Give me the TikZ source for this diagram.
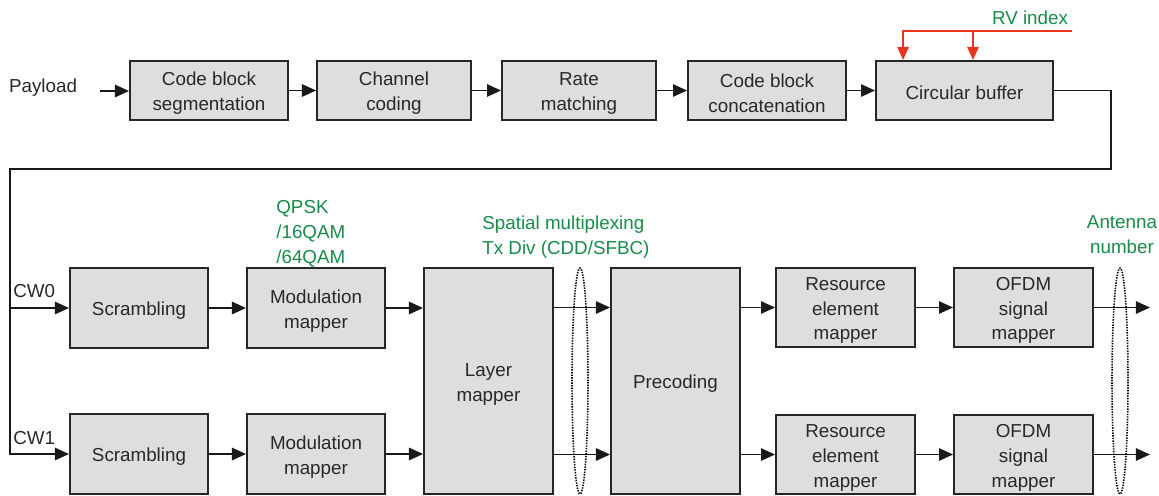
\documentclass[tikz,border=0pt]{standalone}
\usepackage{fontspec}
\setmainfont{Liberation Sans}
\usetikzlibrary{arrows.meta,shapes.geometric}
\definecolor{blkfill}{RGB}{222,222,222}
\definecolor{lblgreen}{RGB}{22,140,72}
\definecolor{rvred}{RGB}{234,52,32}
\definecolor{txtgray}{RGB}{40,40,40}
\begin{document}
\begin{tikzpicture}[x=0.02cm,y=-0.02cm,
	blk/.style={draw=black!85,line width=1.1pt,fill=blkfill,text=txtgray,align=center,inner sep=0pt,
		font=\fontsize{10.7}{14.2}\selectfont},
	lift/.style={execute at begin node={\rule{0pt}{#1}}},
	one/.style={lift=10.2pt},
	two/.style={lift=25pt},
	three/.style={lift=39.2pt},
	toprow/.style={blk,minimum height=1.18cm},
	cwblk/.style={blk,minimum width=2.76cm,minimum height=1.6cm},
	mapblk/.style={blk,three,minimum width=2.78cm,minimum height=1.58cm},
	tall/.style={blk,minimum width=2.58cm,minimum height=4.52cm},
	arr/.style={line width=1.1pt,black!90,-{Triangle[length=8pt,width=7pt]}},
	rvline/.style={line width=0.9pt,rvred,-{Triangle[length=7.5pt,width=6.5pt]}},
	grp/.style={ellipse,draw,line width=0.9pt,dash pattern=on 0.8pt off 0.7pt,inner sep=0pt,minimum width=0.32cm,minimum height=4.52cm},
	lbl/.style={text=txtgray,inner sep=0pt,font=\fontsize{10.7}{14.2}\selectfont},
	grn/.style={text=lblgreen,inner sep=0pt,align=left,font=\fontsize{10.7}{14.2}\selectfont}]
	\useasboundingbox (0,0) rectangle (1159,495);
	% transport block chain
	\node[lbl] (payload) at (43,88) {Payload};
	\coordinate (pin) at (100,91);
	\node[toprow,two,minimum width=3.16cm] (seg) at (209,90.5) {Code block\\segmentation};
	\node[toprow,two,minimum width=3.08cm] (chan) at (394,90.5) {Channel\\coding};
	\node[toprow,two,minimum width=3.08cm] (rate) at (579,90.5) {Rate\\matching};
	\node[toprow,two,minimum width=3.16cm] (concat) at (767,90.5) {Code block\\concatenation};
	\node[toprow,one,minimum width=3.54cm] (buf) at (964.5,90.5) {Circular buffer};
	\draw[arr] (pin) -- (seg.west |- pin);
	\foreach \a/\b in {seg/chan,chan/rate,rate/concat,concat/buf}
		\draw[arr] (\a) -- (\b);
	% RV index
	\node[grn] (rv) at (1030,18) {RV index};
	\coordinate (rvin) at (1072,31);
	\coordinate (rvtap) at (973,31);
	\draw[rvline] (rvin) -| ([xshift=0.56cm]buf.north west);
	\draw[rvline] (rvtap) -- (rvtap |- buf.north);
	% codeword rows
	\node[cwblk,one] (scr0) at (139,308) {Scrambling};
	\node[cwblk,two] (mod0) at (316,308) {Modulation\\mapper};
	\node[cwblk,one] (scr1) at (139,454) {Scrambling};
	\node[cwblk,two] (mod1) at (316,454) {Modulation\\mapper};
	\node[tall,two] (layer) at (488.5,381) {Layer\\mapper};
	\node[tall,one] (prec) at (675.5,381) {Precoding};
	\node[mapblk] (re0) at (845.5,307.5) {Resource\\element\\mapper};
	\node[mapblk] (re1) at (845.5,454.5) {Resource\\element\\mapper};
	\node[mapblk] (ofdm0) at (1023.5,307.5) {OFDM\\signal\\mapper};
	\node[mapblk] (ofdm1) at (1023.5,454.5) {OFDM\\signal\\mapper};
	\node[lbl,anchor=west] (cw0) at (13,291) {CW0};
	\node[lbl,anchor=west] (cw1) at (13,438) {CW1};
	\coordinate (turnR) at (1111,169);
	\coordinate (turnL) at (10,169);
	\draw[arr] (buf.east) -| (turnR) -- (turnL) |- (scr1.west);
	\draw[arr] (turnL |- scr0.west) -- (scr0.west);
	\foreach \a/\b in {scr0/mod0,scr1/mod1,re0/ofdm0,re1/ofdm1}
		\draw[arr] (\a) -- (\b);
	\foreach \r in {0,1} {
		\draw[arr] (mod\r.east) -- (mod\r.east -| layer.west);
		\draw[arr] (layer.east |- re\r.west) -- (prec.west |- re\r.west);
		\draw[arr] (prec.east |- re\r.west) -- (re\r.west);
	}
	\coordinate (out0) at (1150,307.5);
	\coordinate (out1) at (1150,454.5);
	\draw[arr] (ofdm0.east) -- (out0);
	\draw[arr] (ofdm1.east) -- (out1);
	% groupings and labels
	\node[grp] (lyrgrp) at (580,381) {};
	\node[grp] (antgrp) at (1120,381) {};
	\node[grn,anchor=west] (modlbl) at (276,234) {QPSK\\/16QAM\\/64QAM};
	\node[grn,anchor=west] (mimolbl) at (482,237) {Spatial multiplexing\\Tx Div (CDD/SFBC)};
	\node[grn,align=center] (antlbl) at (1122,235) {Antenna\\number};
\end{tikzpicture}
\end{document}
